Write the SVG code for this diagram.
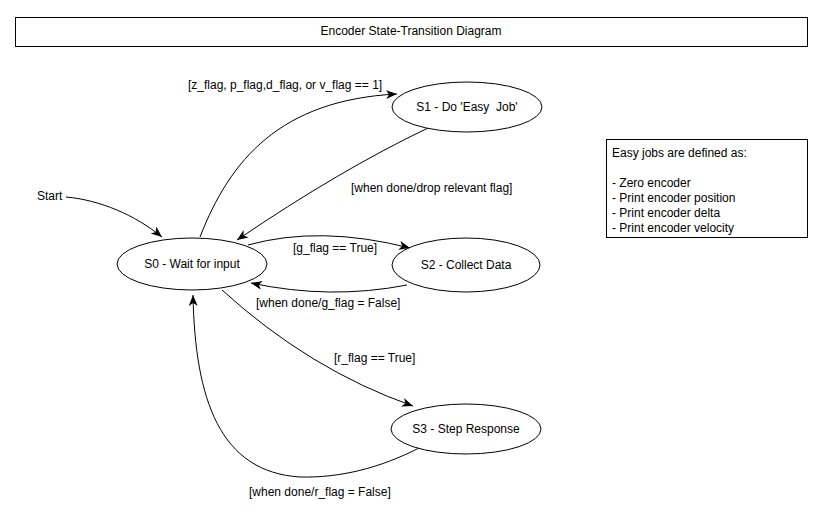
<svg xmlns="http://www.w3.org/2000/svg" width="824" height="515" viewBox="0 0 824 515">
<style>
text{font-family:"Liberation Sans",Arial,sans-serif;font-size:12px;fill:#000;white-space:pre}
.n{fill:#fff;stroke:#000;stroke-width:1}
.c{fill:none;stroke:#000;stroke-width:1;marker-end:url(#ah)}
.m{text-anchor:middle}
</style>
<defs>
<marker id="ah" markerUnits="userSpaceOnUse" markerWidth="12" markerHeight="10" refX="11" refY="4.5" orient="auto">
<path d="M0,0 L11,4.5 L0,9 L3,4.5 z" fill="#000"/>
</marker>
</defs>
<rect width="824" height="515" fill="#fff"/>
<g id="title">
<rect x="15.5" y="17.5" width="792" height="29" fill="#fff" stroke="#000"/>
<text class="m" x="411" y="35">Encoder State-Transition Diagram</text>
</g>
<g id="connectors">
<path class="c" d="M66 197 C100 200,135 215,162 237"/>
<path class="c" d="M200 237 C230 160,280 100,397 94"/>
<path class="c" d="M428 128 Q340 170,237 240"/>
<path class="c" d="M248 245 Q320 225,410 248"/>
<path class="c" d="M407 285 Q330 300,251 283"/>
<path class="c" d="M222 290 Q310 370,413 406"/>
<path class="c" d="M419 448 C380 468,340 478,300 477 C220 472,195 400,193 295"/>
<text x="37" y="200">Start</text>
<text x="188" y="89">[z_flag, p_flag,d_flag, or v_flag == 1]</text>
<text x="351" y="192">[when done/drop relevant flag]</text>
<text x="293" y="252">[g_flag == True]</text>
<text x="256" y="307">[when done/g_flag = False]</text>
<text x="334" y="362">[r_flag == True]</text>
<text x="249" y="496">[when done/r_flag = False]</text>
</g>
<g id="s0">
<ellipse class="n" cx="192" cy="264" rx="75" ry="26"/>
<text class="m" x="192" y="268">S0 - Wait for input</text>
</g>
<g id="s1">
<ellipse class="n" cx="467" cy="107" rx="75" ry="25"/>
<text class="m" x="467" y="111">S1 - Do 'Easy  Job'</text>
</g>
<g id="s2">
<ellipse class="n" cx="466" cy="265" rx="74" ry="27"/>
<text class="m" x="466" y="269">S2 - Collect Data</text>
</g>
<g id="s3">
<ellipse class="n" cx="466" cy="429" rx="75" ry="25"/>
<text class="m" x="466" y="433">S3 - Step Response</text>
</g>
<g id="info">
<rect x="606.5" y="139.5" width="201" height="98" fill="#fff" stroke="#000"/>
<text x="612" y="157">Easy jobs are defined as:</text>
<text x="612" y="187">- Zero encoder</text>
<text x="612" y="202">- Print encoder position</text>
<text x="612" y="217">- Print encoder delta</text>
<text x="612" y="232">- Print encoder velocity</text>
</g>
</svg>
